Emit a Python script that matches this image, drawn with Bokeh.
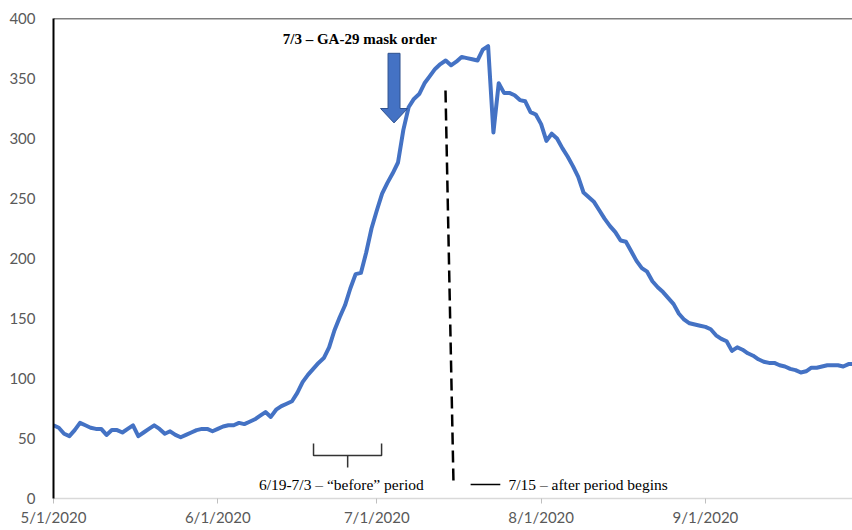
import pandas as pd
from bokeh.plotting import figure
from bokeh.models import Range1d, FixedTicker, Span, Label
from bokeh.embed import file_html
from bokeh.resources import INLINE

# ---------------- data ----------------
start_date = "2020-05-01"
values = [
    61, 59, 54, 52, 57, 63, 61, 59, 58, 58,
    53, 57, 57, 55, 58, 61, 52, 55, 58, 61,
    58, 54, 56, 53, 51, 53, 55, 57, 58, 58,
    56, 58, 60, 61, 61, 63, 62, 64, 66, 69,
    72, 68, 74, 77, 79, 81, 88, 97, 103, 108,
    113, 117, 126, 140, 151, 161, 175, 187, 188, 205,
    225, 240, 254, 263, 271, 280, 307, 326, 333, 337,
    346, 352, 358, 362, 365, 361, 364, 368, 367, 366,
    365, 374, 377, 305, 346, 338, 338, 336, 332, 331,
    322, 320, 312, 298, 304, 300, 292, 285, 277, 268,
    255, 251, 247, 240, 233, 227, 222, 215, 214, 206,
    198, 192, 189, 181, 176, 172, 167, 162, 154, 149,
    146, 145, 144, 143, 141, 136, 133, 131, 123, 126,
    124, 121, 119, 116, 114, 113, 113, 111, 110, 108,
    107, 105, 106, 109, 109, 110, 111, 111, 111, 110,
    112, 112,
]
dates = pd.date_range(start_date, periods=len(values), freq="D")

x_tick_dates = ["2020-05-01", "2020-06-01", "2020-07-01", "2020-08-01", "2020-09-01"]
x_tick_labels = ["5/1/2020", "6/1/2020", "7/1/2020", "8/1/2020", "9/1/2020"]
y_ticks = [0, 50, 100, 150, 200, 250, 300, 350, 400]

mask_text = "7/3 \u2013 GA-29 mask order"
before_text = "6/19-7/3 \u2013 \u201cbefore\u201d period"
after_text = "7/15 \u2013 after period begins"

# annotation anchors (days after 5/1, values)
view_days = 150.75
arrow_day, arrow_tip, arrow_neck, arrow_top = 64.25, 313, 325, 371
arrow_shaft_hw, arrow_head_hw = 1.13, 2.55
dash_top = (73.96, 340)
dash_bot = (75.47, 12.5)
bracket_left, bracket_right, bracket_mid = 49.06, 61.9, 55.5
bracket_top, bracket_bar, bracket_tip = 45.8, 35.8, 25.8

DAY_MS = 86400000.0
base_ms = pd.Timestamp(start_date).value / 1e6


def dx(d):
    return base_ms + d * DAY_MS


tick_ms = [pd.Timestamp(t).value / 1e6 for t in x_tick_dates]

p = figure(
    x_axis_type="datetime",
    width=852, height=530,
    x_range=Range1d(dx(0), dx(view_days)),
    y_range=Range1d(0, 400),
    output_backend="svg", toolbar_location=None,
    min_border_left=53, min_border_right=0,
    min_border_top=18, min_border_bottom=32,
)
p.outline_line_color = None
p.grid.visible = False
p.background_fill_color = "white"

# series
p.line(dates, values, line_color="#4472C4", line_width=4, line_join="round")

# y axis
ya = p.yaxis[0]
ya.ticker = FixedTicker(ticks=y_ticks)
ya.axis_line_color = "black"
ya.axis_line_width = 2
ya.major_tick_line_color = None
ya.minor_tick_line_color = None
ya.major_tick_out = 0
ya.major_label_standoff = 18
ya.major_label_text_font = "Lato"
ya.major_label_text_font_size = "15px"
ya.major_label_text_color = "#595959"

# x axis
xa = p.xaxis[0]
xa.ticker = FixedTicker(ticks=tick_ms)
xa.major_label_overrides = {t: l for t, l in zip(tick_ms, x_tick_labels)}
xa.axis_line_color = "#D9D9D9"
xa.axis_line_width = 1.5
xa.major_tick_line_color = "#BFBFBF"
xa.major_tick_out = 5
xa.major_tick_in = 0
xa.minor_tick_line_color = None
xa.major_label_standoff = 4
xa.major_label_text_font = "Lato"
xa.major_label_text_font_size = "15px"
xa.major_label_text_color = "#595959"

# top border
p.add_layout(Span(location=400, dimension="width", line_color="black", line_width=1.5))

# arrow
ax = [arrow_day - arrow_head_hw, arrow_day - arrow_shaft_hw, arrow_day - arrow_shaft_hw,
      arrow_day + arrow_shaft_hw, arrow_day + arrow_shaft_hw, arrow_day + arrow_head_hw, arrow_day]
ay = [arrow_neck, arrow_neck, arrow_top, arrow_top, arrow_neck, arrow_neck, arrow_tip]
p.patch([dx(v) for v in ax], ay, fill_color="#4472C4", line_color="#2F528F", line_width=1)

# dashed line
p.line([dx(dash_top[0]), dx(dash_bot[0])], [dash_top[1], dash_bot[1]],
       line_color="black", line_width=2.5, line_dash="12 6")

# short solid line next to after text
p.line([dx(78.7), dx(84.3)], [11.7, 11.7], line_color="black", line_width=1.5)

# bracket
p.multi_line(
    [[dx(bracket_left), dx(bracket_left), dx(bracket_right), dx(bracket_right)],
     [dx(bracket_mid), dx(bracket_mid)]],
    [[bracket_top, bracket_bar, bracket_bar, bracket_top],
     [bracket_bar, bracket_tip]],
    line_color="#333333", line_width=1.5,
)

# texts
p.add_layout(Label(x=dx(57.8), y=383, text=mask_text, text_font="Liberation Serif",
                   text_font_style="bold", text_font_size="15px", text_align="center",
                   text_baseline="middle", text_color="black"))
p.add_layout(Label(x=dx(54.3), y=11.7, text=before_text, text_font="Liberation Serif",
                   text_font_size="15.5px", text_align="center", text_baseline="middle",
                   text_color="black"))
p.add_layout(Label(x=dx(85.85), y=11.7, text=after_text, text_font="Liberation Serif",
                   text_font_size="15.5px", text_align="left", text_baseline="middle",
                   text_color="black"))

open("out.html", "w").write(file_html(p, INLINE))
